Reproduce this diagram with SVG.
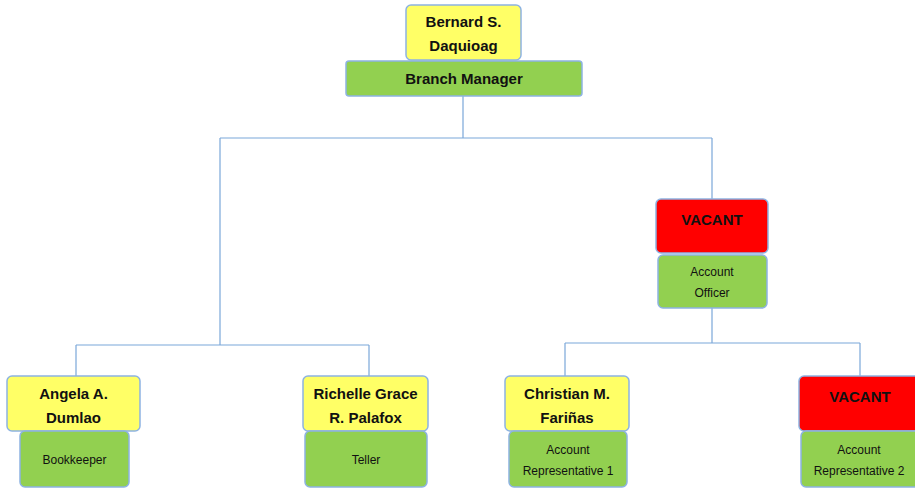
<svg xmlns="http://www.w3.org/2000/svg" width="915" height="488" viewBox="0 0 915 488">
  <style>
    .name { fill: #ffff66; stroke: #8db3e2; stroke-width: 1.5; }
    .vac { fill: #ff0000; stroke: #8db3e2; stroke-width: 1.5; }
    .role { fill: #92d050; stroke: #8db3e2; stroke-width: 1.5; }
    .t1 { font-family: "Liberation Sans", Arial, sans-serif; font-weight: bold; font-size: 15px; fill: #111; text-anchor: middle; }
    .t2 { font-family: "Liberation Sans", Arial, sans-serif; font-size: 12px; fill: #111; text-anchor: middle; }
    .conn { fill: none; stroke: #7ba7d9; stroke-width: 1.2; }
  </style>
  <rect width="915" height="488" fill="#ffffff"/>

  <g id="connectors">
    <path class="conn" d="M463 96 V138 M220 138 H712 M220 138 V345 M712 138 V199"/>
    <path class="conn" d="M76 345 H369 M76 345 V376 M369 345 V376"/>
    <path class="conn" d="M712 308 V343 M565 343 H860 M565 343 V376 M860 343 V376"/>
  </g>

  <g id="branch-manager">
    <rect class="name" x="406" y="5" width="115" height="55" rx="5"/>
    <text class="t1" x="463.5" y="27">Bernard S.</text>
    <text class="t1" x="463.5" y="51">Daquioag</text>
    <rect class="role" x="346" y="61" width="236" height="35" rx="3"/>
    <text class="t1" x="464" y="84">Branch Manager</text>
  </g>

  <g id="account-officer">
    <rect class="vac" x="656" y="199" width="112" height="54" rx="5"/>
    <text class="t1" x="712" y="225">VACANT</text>
    <rect class="role" x="658" y="255" width="109" height="53" rx="5"/>
    <text class="t2" x="712" y="276">Account</text>
    <text class="t2" x="712" y="297">Officer</text>
  </g>

  <g id="bookkeeper">
    <rect class="name" x="7" y="376" width="133" height="55" rx="5"/>
    <text class="t1" x="73.5" y="399">Angela A.</text>
    <text class="t1" x="73.5" y="423">Dumlao</text>
    <rect class="role" x="20" y="431" width="109" height="56" rx="5"/>
    <text class="t2" x="74.5" y="464">Bookkeeper</text>
  </g>

  <g id="teller">
    <rect class="name" x="303" y="376" width="125" height="55" rx="5"/>
    <text class="t1" x="365.5" y="399">Richelle Grace</text>
    <text class="t1" x="365.5" y="423">R. Palafox</text>
    <rect class="role" x="305" y="431" width="122" height="56" rx="5"/>
    <text class="t2" x="366" y="464">Teller</text>
  </g>

  <g id="account-rep-1">
    <rect class="name" x="505" y="376" width="124" height="55" rx="5"/>
    <text class="t1" x="567" y="399">Christian M.</text>
    <text class="t1" x="567" y="423">Fariñas</text>
    <rect class="role" x="509" y="431" width="118" height="56" rx="5"/>
    <text class="t2" x="568" y="454">Account</text>
    <text class="t2" x="568" y="475">Representative 1</text>
  </g>

  <g id="account-rep-2">
    <rect class="vac" x="799" y="376" width="122" height="55" rx="5"/>
    <text class="t1" x="860" y="402">VACANT</text>
    <rect class="role" x="801" y="431" width="120" height="56" rx="5"/>
    <text class="t2" x="859" y="454">Account</text>
    <text class="t2" x="859" y="475">Representative 2</text>
  </g>
</svg>
